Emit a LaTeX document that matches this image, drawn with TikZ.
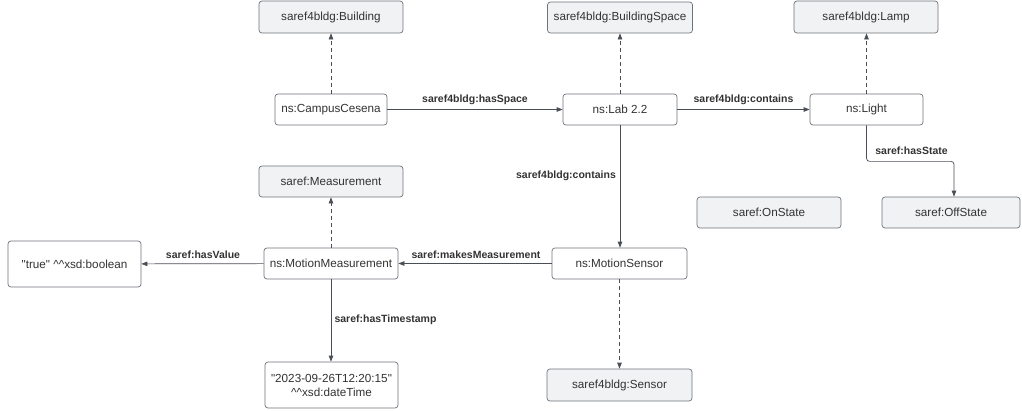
\documentclass[tikz,border=0pt]{standalone}
\usepackage{fontspec}
\setmainfont{Liberation Sans}[Ligatures=TeXOff]
\usetikzlibrary{arrows.meta}
\definecolor{edgecol}{HTML}{4A4F57}
\definecolor{boxline}{HTML}{6E737A}
\definecolor{classfill}{HTML}{F1F2F4}
\definecolor{txt}{HTML}{333333}
\tikzset{
  base/.style={draw=boxline, line width=0.7pt, rounded corners=3pt, text=txt,
    font=\fontsize{11.7}{14}\selectfont, inner sep=0pt, align=center},
  inst/.style={base, fill=white},
  cls/.style={base, fill=classfill},
  rel/.style={draw=edgecol, line width=0.7pt, -{Triangle[length=6pt,width=4.5pt]}},
  typeof/.style={rel, dash pattern=on 4pt off 3pt},
  lbl/.style={text=txt, font=\bfseries\fontsize{10.5}{12}\selectfont, inner sep=0pt}
}
\begin{document}
\begin{tikzpicture}[x=1pt, y=-1pt]
  \fill[white] (0,0) rectangle (1022,410);
  \useasboundingbox (0,0) rectangle (1022,410);

  % classes
  \node[cls, minimum width=144pt, minimum height=32pt] (building) at (331,17) {saref4bldg:Building};
  \node[cls, minimum width=145pt, minimum height=31pt] (bspace) at (620,17.5) {saref4bldg:BuildingSpace};
  \node[cls, minimum width=144pt, minimum height=32pt] (lamp) at (866,17) {saref4bldg:Lamp};
  \node[cls, minimum width=144pt, minimum height=31pt] (onstate) at (769,212.5) {saref:OnState};
  \node[cls, minimum width=138pt, minimum height=31pt] (offstate) at (951,212.5) {saref:OffState};
  \node[cls, minimum width=144pt, minimum height=31pt] (measclass) at (331,181.5) {saref:Measurement};
  \node[cls, minimum width=145pt, minimum height=32pt] (sensorclass) at (619.5,385) {saref4bldg:Sensor};

  % individuals and literals
  \node[inst, minimum width=112pt, minimum height=31pt] (campus) at (331,109.5) {ns:CampusCesena};
  \node[inst, minimum width=114pt, minimum height=31pt] (lab) at (620,109.5) {ns:Lab 2.2};
  \node[inst, minimum width=113pt, minimum height=31pt] (light) at (866.5,109.5) {ns:Light};
  \node[inst, minimum width=134pt, minimum height=31pt] (mm) at (331,263.5) {ns:MotionMeasurement};
  \node[inst, minimum width=135pt, minimum height=31pt] (ms) at (619.5,263.5) {ns:MotionSensor};
  \node[inst, minimum width=133pt, minimum height=46pt] (truelit) at (74.5,264) {"true" \^{}\^{}xsd:boolean};
  \node[inst, minimum width=133pt, minimum height=46pt] (datelit) at (331.5,385) {"2023-09-26T12:20:15"\\\^{}\^{}xsd:dateTime};

  % rdf:type links
  \draw[typeof] (campus) -- (building);
  \draw[typeof] (lab) -- (bspace);
  \draw[typeof] (light.north) -- (lamp.south -| light.north);
  \draw[typeof] (mm) -- (measclass);
  \draw[typeof] (ms) -- (sensorclass);

  % object properties
  \draw[rel] (campus) -- (lab);
  \draw[rel] (lab) -- (light);
  \draw[rel] (lab) -- (lab.south |- ms.north);
  \draw[rel] (ms) -- (mm);
  \draw[rel] (mm) -- (truelit);
  \draw[rel] (mm) -- (mm.south |- datelit.north);
  \draw[rel, rounded corners=3pt] (light.south) -- ++(0,36) -| ([xshift=3pt]offstate.north);

  % property labels
  \node[lbl] (l1) at (475,100) {saref4bldg:hasSpace};
  \node[lbl] (l2) at (743.5,100) {saref4bldg:contains};
  \node[lbl] (l3) at (911.5,151) {saref:hasState};
  \node[lbl] (l4) at (566,176) {saref4bldg:contains};
  \node[lbl] (l5) at (476,255) {saref:makesMeasurement};
  \node[lbl] (l6) at (203,255) {saref:hasValue};
  \node[lbl] (l7) at (385.5,320) {saref:hasTimestamp};
\end{tikzpicture}
\end{document}
